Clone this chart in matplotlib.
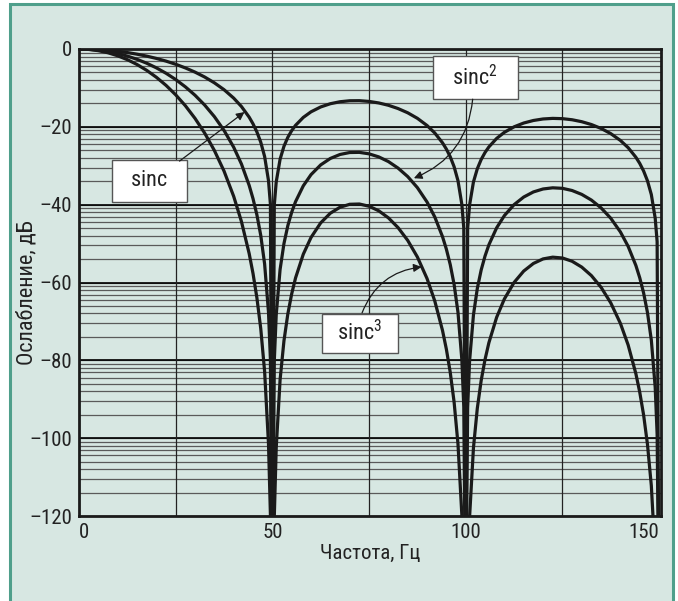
import matplotlib
matplotlib.use("Agg")
import matplotlib.pyplot as plt
from matplotlib.patches import Rectangle
from matplotlib import font_manager
import numpy as np

names = set(f.name for f in font_manager.fontManager.ttflist)
fams = [n for n in ['Roboto Condensed', 'Liberation Sans Narrow', 'Open Sans Condensed',
                    'Liberation Sans'] if n in names]
plt.rcParams['font.family'] = fams + ['DejaVu Sans']
plt.rcParams['mathtext.fontset'] = 'custom'
plt.rcParams['mathtext.rm'] = (fams + ['DejaVu Sans'])[0]

# frequency, Hz
freq = [0, 2.5, 5, 7.5, 10, 12.5, 15, 17.5, 20, 22.5, 25, 27.5, 30, 32.5, 35, 37.5,
        40, 42, 44, 45, 46, 47, 48, 49, 49.5, 50, 50.5, 51, 52, 53, 54, 55, 56, 58,
        60, 62.5, 65, 67.5, 70, 72.5, 75, 77.5, 80, 82.5, 85, 87.5, 90, 92, 94, 95,
        96, 97, 98, 99, 99.5, 100, 100.5, 101, 102, 103, 104, 105, 106, 108, 110,
        112.5, 115, 117.5, 120, 122.5, 125, 127.5, 130, 132.5, 135, 137.5, 140, 142,
        144, 145, 146, 147, 148, 149, 149.5, 150]

# attenuation, dB
sinc1 = [0, -0.04, -0.14, -0.32, -0.58, -0.91, -1.33, -1.83, -2.42, -3.11, -3.92,
         -4.86, -5.94, -7.20, -8.69, -10.45, -12.62, -14.77, -17.51, -19.23, -21.31,
         -23.95, -27.63, -33.81, -39.91, -150, -40.09, -34.16, -28.32, -25.00, -22.70,
         -20.97, -19.61, -17.58, -16.14, -14.89, -14.06, -13.55, -13.30, -13.28,
         -13.47, -13.86, -14.46, -15.30, -16.39, -17.81, -19.66, -21.58, -24.11,
         -25.72, -27.70, -30.25, -33.83, -39.92, -45.98, -150, -46.07, -40.09, -34.17,
         -30.77, -28.39, -26.59, -25.15, -22.98, -21.41, -20.00, -19.02, -18.37,
         -17.98, -17.83, -17.90, -18.18, -18.68, -19.41, -20.41, -21.74, -23.50,
         -25.35, -27.81, -29.39, -31.34, -33.86, -37.41, -43.47, -49.52, -150]

sinc2 = [0, -0.07, -0.29, -0.65, -1.16, -1.82, -2.65, -3.65, -4.84, -6.23, -7.84,
         -9.72, -11.88, -14.41, -17.37, -20.91, -25.24, -29.54, -35.03, -38.46,
         -42.61, -47.90, -55.25, -67.62, -79.83, -150, -80.18, -68.31, -56.64, -49.99,
         -45.40, -41.94, -39.22, -35.16, -32.28, -29.78, -28.12, -27.10, -26.60,
         -26.56, -26.94, -27.72, -28.92, -30.60, -32.78, -35.62, -39.32, -43.16,
         -48.22, -51.44, -55.40, -60.50, -67.66, -79.84, -91.96, -150, -92.13, -80.18,
         -68.35, -61.53, -56.78, -53.18, -50.30, -45.95, -42.81, -40.00, -38.04,
         -36.73, -35.97, -35.67, -35.80, -36.36, -37.36, -38.82, -40.82, -43.48,
         -47.00, -50.71, -55.62, -58.78, -62.67, -67.71, -74.81, -86.94, -99.03, -150]

sinc3 = [0, -0.11, -0.43, -0.97, -1.74, -2.74, -3.98, -5.48, -7.26, -9.34, -11.77,
         -14.57, -17.83, -21.61, -26.06, -31.36, -37.86, -44.32, -52.54, -57.68,
         -63.92, -71.85, -82.88, -101.43, -119.74, -150, -120.26, -102.47, -84.97,
         -74.99, -68.09, -62.91, -58.82, -52.73, -48.43, -44.68, -42.19, -40.66,
         -39.90, -39.83, -40.40, -41.57, -43.38, -45.89, -49.18, -53.44, -58.99,
         -64.75, -72.32, -77.15, -83.09, -90.74, -101.48, -119.75, -137.93, -150,
         -138.20, -120.28, -102.51, -92.31, -85.17, -79.77, -75.45, -68.94, -64.23,
         -60.00, -57.06, -55.11, -53.94, -53.49, -53.70, -54.54, -56.04, -58.23,
         -61.23, -65.22, -70.50, -76.05, -83.43, -88.17, -94.02, -101.58, -112.23,
         -130.41, -148.56, -150]

xticks = [0, 50, 100, 150]
yticks = [0, -20, -40, -60, -80, -100, -120]
vlines = [25, 50, 75, 100, 125]

bg = '#d7e7e2'
frame = '#4f9f8b'
ink = '#222222'

fig = plt.figure(figsize=(6.78, 6.01), dpi=100)
fig.patch.set_facecolor('white')
fig.patches.append(Rectangle((10 / 678, -0.02), 663 / 678, 1.02 - 4 / 601,
                             transform=fig.transFigure, facecolor=bg,
                             edgecolor=frame, lw=2.2, zorder=-10))

ax = fig.add_axes([79 / 678, 1 - 516 / 601, 582 / 678, 467 / 601])
ax.set_facecolor(bg)

# log-amplitude style horizontal grid inside each 20 dB band
for top in range(0, -120, -20):
    for k in range(1, 10):
        y = top + 20 * np.log10(k / 10)
        ax.axhline(y, color='#5a5a5a', lw=0.9, zorder=1)
    ax.axhline(top, color='black', lw=1.2, zorder=1)
for x in vlines:
    ax.axvline(x, color='#222222', lw=0.9, zorder=1)

for vals in (sinc1, sinc2, sinc3):
    ax.plot(freq, vals, color='#1a1a1a', lw=2.3, zorder=3)

ax.set_xlim(0, 150.5)
ax.set_ylim(-120, 0)
ax.set_xticks(xticks)
ax.set_yticks(yticks)
ax.set_xticklabels([str(v) for v in xticks])
ax.set_yticklabels([str(v).replace('-', '\u2013') for v in yticks])
ax.tick_params(length=0, labelsize=15, pad=5, colors=ink)
xl = ax.get_xticklabels()
xl[0].set_ha('left')
xl[-1].set_ha('right')
for s in ax.spines.values():
    s.set_linewidth(2.0)
    s.set_color('#1a1a1a')

fig.text(370 / 678, 1 - 553 / 601, 'Частота, Гц', ha='center', va='center',
         fontsize=15, color=ink)
fig.text(27 / 678, 1 - 293 / 601, 'Ослабление, дБ', ha='center', va='center',
         rotation=90, fontsize=16, color=ink)

# label boxes with arrows
boxes = [(r'$\mathregular{sinc}$', 8.5, 27.8, -28.5, -39.3),
         (r'$\mathregular{sinc^2}$', 91.5, 113.4, -1.8, -12.9),
         (r'$\mathregular{sinc^3}$', 62.8, 82.5, -68.0, -78.0)]
for txt, x0, x1, y0, y1 in boxes:
    ax.add_patch(Rectangle((x0, y1), x1 - x0, y0 - y1, facecolor='white',
                           edgecolor='#555555', lw=1.0, zorder=4))
    ax.text((x0 + x1) / 2, (y0 + y1) / 2, txt, ha='center', va='center',
            fontsize=16, color=ink, zorder=5)

arrow = dict(arrowstyle='-|>', color='#1a1a1a', lw=0.9, mutation_scale=12,
             shrinkA=0, shrinkB=0)
ax.annotate('', xy=(42.8, -16.2), xytext=(26.0, -28.8),
            arrowprops=dict(arrow, connectionstyle='arc3,rad=0'), zorder=6)
ax.annotate('', xy=(86.6, -33.2), xytext=(101.8, -12.9),
            arrowprops=dict(arrow, connectionstyle='arc3,rad=-0.3'), zorder=6)
ax.annotate('', xy=(88.6, -56.0), xytext=(73.2, -67.8),
            arrowprops=dict(arrow, connectionstyle='arc3,rad=-0.3'), zorder=6)

fig.savefig('out.png', dpi=100)
